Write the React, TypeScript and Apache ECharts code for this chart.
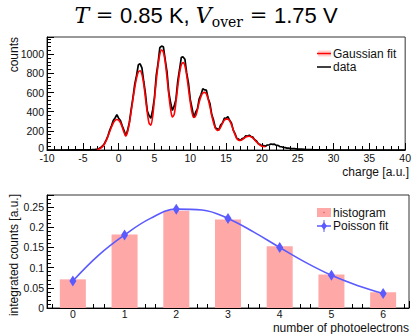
import React, { useEffect, useRef } from "react";
import * as echarts from "echarts";

// Top panel: measured charge spectrum (black) and multi-Gaussian fit (red)
const dataHist: [number, number][] = [
  [-10, 0], [-8, 0], [-6, 1], [-5, 1], [-4.5, 2],
  [-4, 2], [-3.75, 3], [-3.5, 5], [-3.25, 6], [-3, 10], [-2.75, 15], [-2.5, 25], [-2.25, 42],
  [-2, 64], [-1.75, 104], [-1.5, 146], [-1.25, 206], [-1, 252], [-0.75, 308], [-0.5, 334], [-0.25, 368],
  [0, 332], [0.25, 308], [0.5, 252], [0.75, 206], [1, 150], [1.25, 205], [1.5, 290], [1.75, 425],
  [2, 548], [2.25, 688], [2.5, 778], [2.75, 890], [3, 900], [3.25, 858], [3.5, 718], [3.75, 585],
  [4, 410], [4.25, 360], [4.5, 330], [4.75, 418], [5, 548], [5.25, 778], [5.5, 905], [5.75, 1068],
  [6, 1085], [6.25, 1078], [6.5, 945], [6.75, 818], [7, 605], [7.25, 498], [7.5, 412], [7.75, 458],
  [8, 528], [8.25, 718], [8.5, 838], [8.75, 968], [9, 972], [9.25, 948], [9.5, 805], [9.75, 698],
  [10, 528], [10.25, 438], [10.5, 338], [10.75, 395], [11, 430], [11.25, 535], [11.5, 580], [11.75, 640],
  [12, 628], [12.25, 625], [12.5, 538], [12.75, 485], [13, 370], [13.25, 312], [13.5, 232], [13.75, 222],
  [14, 210], [14.25, 262], [14.5, 282], [14.75, 332], [15, 330], [15.25, 348], [15.5, 310], [15.75, 283],
  [16, 208], [16.25, 172], [16.5, 120], [16.75, 114], [17, 100], [17.25, 120], [17.5, 124], [17.75, 148],
  [18, 146], [18.25, 154], [18.5, 139], [18.75, 134], [19, 106], [19.25, 95], [19.5, 66], [19.75, 58],
  [20, 42], [20.25, 46], [20.5, 40], [20.75, 52], [21, 52], [21.25, 63], [21.5, 58], [21.75, 62],
  [22, 48], [22.25, 48], [22.5, 36], [22.75, 34], [23, 26], [23.25, 25], [23.5, 20], [23.75, 20],
  [24, 15], [24.5, 14], [25, 10], [25.5, 9], [26, 6], [26.5, 5], [27, 3], [28, 2], [29, 1], [30, 0],
  [35, 0], [40, 0],
];

const fitCurve: [number, number][] = [
  [-3, 5], [-2.75, 10], [-2.5, 20], [-2.25, 35], [-2, 60], [-1.75, 95], [-1.5, 140], [-1.25, 190],
  [-1, 240], [-0.75, 282], [-0.5, 308], [-0.25, 318], [0, 312], [0.25, 285], [0.5, 240], [0.75, 185],
  [1, 145], [1.25, 190], [1.5, 280], [1.75, 400], [2, 530], [2.25, 650], [2.5, 750], [2.75, 815],
  [3, 828], [3.25, 790], [3.5, 690], [3.75, 540], [4, 390], [4.25, 280], [4.5, 260], [4.75, 350],
  [5, 530], [5.25, 720], [5.5, 880], [5.75, 1000], [6, 1045], [6.25, 1020], [6.5, 920], [6.75, 760],
  [7, 580], [7.25, 430], [7.5, 345], [7.75, 370], [8, 500], [8.25, 660], [8.5, 800], [8.75, 890],
  [9, 912], [9.25, 880], [9.5, 780], [9.75, 640], [10, 500], [10.25, 390], [10.5, 340], [10.75, 355],
  [11, 420], [11.25, 500], [11.5, 560], [11.75, 595], [12, 602], [12.25, 585], [12.5, 530], [12.75, 450],
  [13, 360], [13.25, 285], [13.5, 230], [13.75, 205], [14, 210], [14.25, 240], [14.5, 280], [14.75, 310],
  [15, 322], [15.25, 322], [15.5, 305], [15.75, 265], [16, 210], [16.25, 160], [16.5, 120], [16.75, 102],
  [17, 100], [17.25, 108], [17.5, 122], [17.75, 135], [18, 142], [18.25, 143], [18.5, 138], [18.75, 125],
  [19, 105], [19.25, 85], [19.5, 65], [19.75, 50], [20, 40], [20.25, 36], [20.5, 35],
];

// Bottom panel: integrated counts per photoelectron number, and Poisson fit
const photoelectrons = [0, 1, 2, 3, 4, 5, 6];
const histValues = [0.071, 0.182, 0.241, 0.2195, 0.153, 0.083, 0.039];
const poissonX = [0, 0.5, 1, 1.5, 2, 2.5, 3, 3.5, 4, 4.5, 5, 5.5, 6];
const poissonY = [0.067, 0.131, 0.181, 0.222, 0.245, 0.243, 0.222, 0.188, 0.150, 0.113, 0.081, 0.056, 0.036];

const topLegend = ["Gaussian fit", "data"];
const bottomLegend = ["histogram", "Poisson fit"];

const FONT = "Liberation Sans, Arial, sans-serif";
const SERIF = "DejaVu Serif, Liberation Serif, serif";
const TXT = "#111";
const RED = "#ff0000";
const PINK = "#ffa8a8";
const BLUE = "#5a5aff";

export default function App() {
  const ref = useRef<HTMLDivElement>(null);
  useEffect(() => {
    if (!ref.current) return;
    const chart = echarts.init(ref.current, undefined, { renderer: "svg" });
    const axisCommon = {
      axisLine: { show: true, onZero: false, lineStyle: { color: "#000", width: 1 } },
      axisTick: { show: true, inside: true, length: 7, lineStyle: { color: "#000" } },
      minorTick: { show: true, splitNumber: 5, length: 4, lineStyle: { color: "#000" } },
      splitLine: { show: false },
      minorSplitLine: { show: false },
      axisLabel: { color: TXT, fontSize: 10.5, fontFamily: FONT, margin: 3 },
    };
    const legendText = (text: string, x: number, y: number) => ({
      type: "text", x, y,
      style: { text, fontSize: 12, fontFamily: FONT, fill: TXT, align: "left", verticalAlign: "middle" },
    });
    chart.setOption({
      animation: false,
      textStyle: { fontFamily: FONT },
      grid: [
        { left: 47, top: 37, width: 362, height: 113, show: true, borderColor: "#333", borderWidth: 1 },
        { left: 47, top: 195, width: 362, height: 113, show: true, borderColor: "#333", borderWidth: 1 },
      ],
      xAxis: [
        { ...axisCommon, type: "value", gridIndex: 0, min: -10, max: 40, interval: 5,
          axisLabel: { ...axisCommon.axisLabel, margin: 2 } },
        {
          ...axisCommon, type: "value", gridIndex: 1, min: -0.5, max: 6.5, splitNumber: 7,
          minInterval: 1, maxInterval: 1,
          axisLabel: {
            ...axisCommon.axisLabel, margin: 0, showMinLabel: false, showMaxLabel: false,
            formatter: (v: number) => (Number.isInteger(v) ? String(v) : ""),
          },
        },
      ],
      yAxis: [
        {
          ...axisCommon, type: "value", gridIndex: 0, min: 0, max: 1180, interval: 200,
          axisLabel: {
            ...axisCommon.axisLabel, showMaxLabel: false,
            formatter: (v: number) => (v === 0 ? "{z|0}" : String(v)),
            rich: { z: { fontSize: 10.5, fontFamily: FONT, color: TXT, padding: [0, 0, 5, 0] } },
          },
        },
        {
          ...axisCommon, type: "value", gridIndex: 1, min: 0, max: 0.28, interval: 0.05,
          axisLabel: { ...axisCommon.axisLabel, showMaxLabel: false },
        },
      ],
      series: [
        {
          name: "data", type: "line", xAxisIndex: 0, yAxisIndex: 0, data: dataHist,
          symbol: "none", lineStyle: { color: "#000", width: 1.7 }, itemStyle: { color: "#000" }, z: 2,
        },
        {
          name: "Gaussian fit", type: "line", xAxisIndex: 0, yAxisIndex: 0, data: fitCurve, smooth: 0.3,
          symbol: "none", lineStyle: { color: RED, width: 1.6 }, itemStyle: { color: RED }, z: 3,
        },
        {
          name: "histogram", type: "bar", xAxisIndex: 1, yAxisIndex: 1, barWidth: 26,
          data: photoelectrons.map((n, i) => [n, histValues[i]]),
          itemStyle: { color: PINK }, z: 2,
        },
        {
          name: "Poisson fit", type: "line", xAxisIndex: 1, yAxisIndex: 1, smooth: 0.4,
          data: poissonX.map((x, i) => [x, poissonY[i]]),
          symbol: "diamond", showAllSymbol: true,
          symbolSize: (v: number[]) => (Number.isInteger(v[0]) ? [7, 11] : 0),
          lineStyle: { color: BLUE, width: 1.6 }, itemStyle: { color: BLUE }, z: 3,
        },
      ],
      graphic: [
        {
          type: "text", x: 206, y: 15,
          style: {
            text: "{it|T}{eq| = }{rm|0.85 K, }{it|V}{sub|over}{eq| = }{rm|1.75 V}",
            align: "center", verticalAlign: "middle", fill: "#000",
            rich: {
              it: { fontFamily: SERIF, fontStyle: "italic", fontSize: 22, lineHeight: 28, verticalAlign: "middle" },
              eq: { fontFamily: SERIF, fontSize: 21, lineHeight: 28, verticalAlign: "middle" },
              rm: { fontFamily: FONT, fontSize: 22, lineHeight: 28, verticalAlign: "middle" },
              sub: { fontFamily: SERIF, fontSize: 14, lineHeight: 28, verticalAlign: "bottom" },
            },
          },
        },
        {
          type: "text", x: 14, y: 37, rotation: Math.PI / 2,
          style: { text: "counts", fontSize: 12, fontFamily: FONT, fill: TXT, align: "right", verticalAlign: "middle" },
        },
        {
          type: "text", x: 409, y: 172,
          style: { text: "charge [a.u.]", fontSize: 12, fontFamily: FONT, fill: TXT, align: "right", verticalAlign: "middle" },
        },
        {
          type: "text", x: 14, y: 194, rotation: Math.PI / 2,
          style: { text: "integrated counts [a.u.]", fontSize: 12, fontFamily: FONT, fill: TXT, align: "right", verticalAlign: "middle" },
        },
        {
          type: "text", x: 409, y: 328,
          style: { text: "number of photoelectrons", fontSize: 12, fontFamily: FONT, fill: TXT, align: "right", verticalAlign: "middle" },
        },
        // top legend
        { type: "rect", shape: { x: 318, y: 50.5, width: 13, height: 6 }, style: { fill: "#ffd0d0" } },
        { type: "line", shape: { x1: 317, y1: 53.5, x2: 331, y2: 53.5 }, style: { stroke: RED, lineWidth: 1.5 } },
        legendText(topLegend[0], 333, 53.5),
        { type: "line", shape: { x1: 317, y1: 67, x2: 331, y2: 67 }, style: { stroke: "#000", lineWidth: 1.5 } },
        legendText(topLegend[1], 333, 67),
        // bottom legend
        { type: "rect", shape: { x: 317, y: 208, width: 14, height: 9 }, style: { fill: PINK } },
        { type: "circle", shape: { cx: 324, cy: 212.5, r: 0.7 }, style: { fill: "#e05050" } },
        legendText(bottomLegend[0], 333, 212.5),
        { type: "line", shape: { x1: 317, y1: 226, x2: 331, y2: 226 }, style: { stroke: BLUE, lineWidth: 1.5 } },
        { type: "line", shape: { x1: 324, y1: 220, x2: 324, y2: 232 }, style: { stroke: BLUE, lineWidth: 1 } },
        { type: "polygon", shape: { points: [[324, 222], [327, 226], [324, 230], [321, 226]] }, style: { fill: BLUE } },
        legendText(bottomLegend[1], 333, 226),
      ],
    });
    return () => chart.dispose();
  }, []);
  return <div ref={ref} style={{ width: 414, height: 334, position: "absolute", left: 0, top: 0 }} />;
}
